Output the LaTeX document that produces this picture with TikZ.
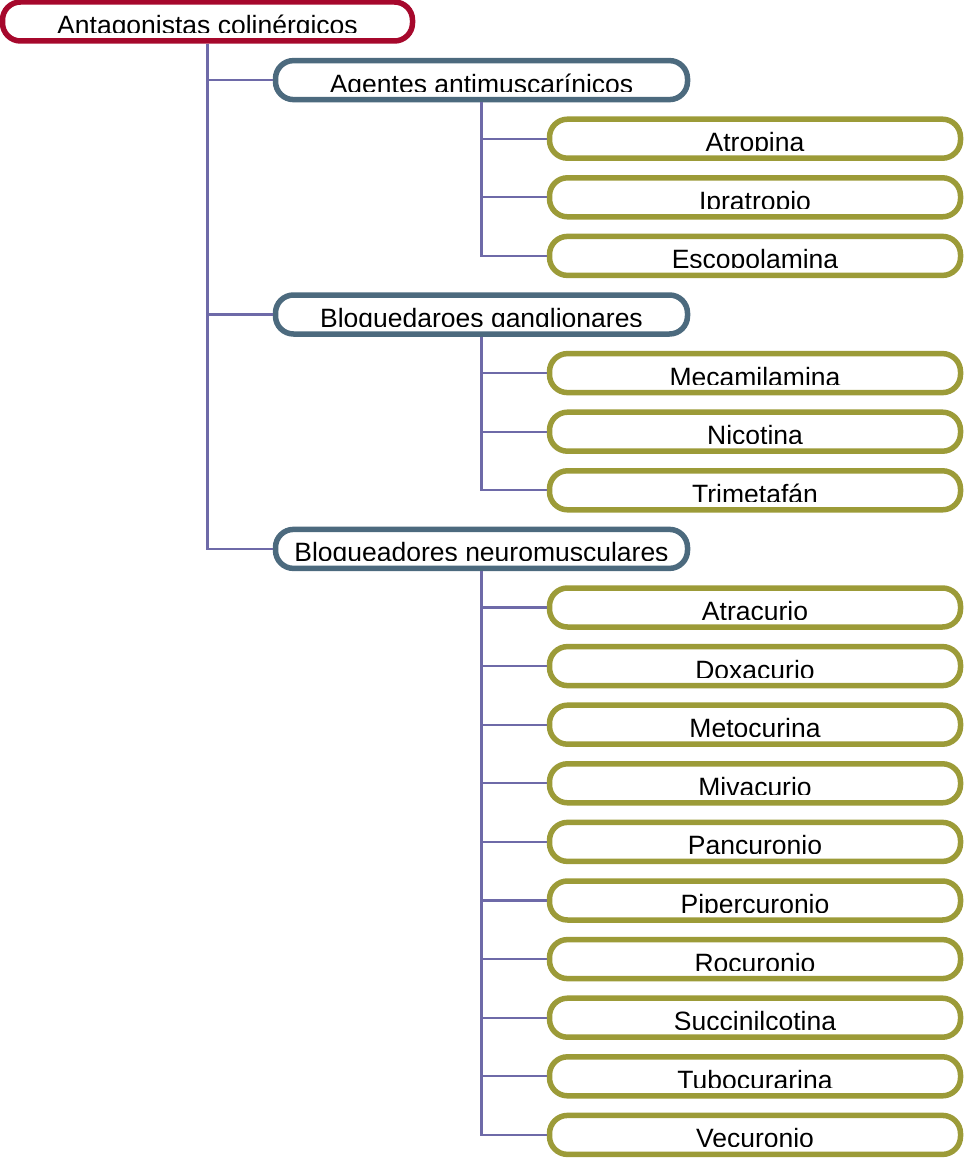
\documentclass[tikz,border=0pt]{standalone}
\usepackage{fontspec}
\setmainfont{Liberation Sans}
\definecolor{rootred}{RGB}{166,8,44}
\definecolor{slate}{RGB}{76,106,126}
\definecolor{olive}{RGB}{156,155,56}
\definecolor{conncol}{RGB}{110,106,168}
\tikzset{
  box/.style={draw, line width=5.5pt, rounded corners=18pt, inner sep=0pt, minimum height=39pt, fill=white},
  rootbox/.style={box, draw=rootred, minimum width=410pt},
  midbox/.style={box, draw=slate, minimum width=412pt},
  leafbox/.style={box, draw=olive, minimum width=411pt},
  conn/.style={draw=conncol, line width=2.2pt},
  lbl/.style={anchor=base, inner sep=0pt, font=\fontsize{26.5}{26.5}\selectfont, text=black}
}
\newcommand\boxlabel[2]{%
  \begin{scope}
    \clip ([yshift=-2.5pt]#1.north west) rectangle ([yshift=-11.5pt]#1.east);
    \node[lbl] (#1-t) at ([yshift=-13pt]#1.center) {#2};
  \end{scope}}
\begin{document}
\begin{tikzpicture}[x=1pt,y=-1pt]
\useasboundingbox (0,0) rectangle (966,1161);
% rows: y = 21.5 + 58.6 k
\node[rootbox] (root) at (207.5,21.5) {};
\node[midbox] (ag) at (481.5,80.1) {};
\node[leafbox] (atr) at (755,138.7) {};
\node[leafbox] (ipr) at (755,197.3) {};
\node[leafbox] (esc) at (755,255.9) {};
\node[midbox] (bg) at (481.5,314.5) {};
\node[leafbox] (mec) at (755,373.1) {};
\node[leafbox] (nic) at (755,431.7) {};
\node[leafbox] (tri) at (755,490.3) {};
\node[midbox] (bn) at (481.5,548.9) {};
\node[leafbox] (atc) at (755,607.5) {};
\node[leafbox] (dox) at (755,666.1) {};
\node[leafbox] (met) at (755,724.7) {};
\node[leafbox] (miv) at (755,783.3) {};
\node[leafbox] (pan) at (755,841.9) {};
\node[leafbox] (pip) at (755,900.5) {};
\node[leafbox] (roc) at (755,959.1) {};
\node[leafbox] (suc) at (755,1017.7) {};
\node[leafbox] (tub) at (755,1076.3) {};
\node[leafbox] (vec) at (755,1134.9) {};
% connectors
\path[conn] (root.south) |- (ag.west);
\path[conn] (root.south) |- (bg.west);
\path[conn] (root.south) |- (bn.west);
\path[conn] (ag.south) |- (atr.west);
\path[conn] (ag.south) |- (ipr.west);
\path[conn] (ag.south) |- (esc.west);
\path[conn] (bg.south) |- (mec.west);
\path[conn] (bg.south) |- (nic.west);
\path[conn] (bg.south) |- (tri.west);
\foreach \n in {atc,dox,met,miv,pan,pip,roc,suc,tub,vec}{
  \path[conn] (bn.south) |- (\n.west);
}
% labels
\boxlabel{root}{Antagonistas colinérgicos}
\boxlabel{ag}{Agentes antimuscarínicos}
\boxlabel{atr}{Atropina}
\boxlabel{ipr}{Ipratropio}
\boxlabel{esc}{Escopolamina}
\boxlabel{bg}{Bloquedaroes ganglionares}
\boxlabel{mec}{Mecamilamina}
\boxlabel{nic}{Nicotina}
\boxlabel{tri}{Trimetafán}
\boxlabel{bn}{Bloqueadores neuromusculares}
\boxlabel{atc}{Atracurio}
\boxlabel{dox}{Doxacurio}
\boxlabel{met}{Metocurina}
\boxlabel{miv}{Mivacurio}
\boxlabel{pan}{Pancuronio}
\boxlabel{pip}{Pipercuronio}
\boxlabel{roc}{Rocuronio}
\boxlabel{suc}{Succinilcotina}
\boxlabel{tub}{Tubocurarina}
\boxlabel{vec}{Vecuronio}
\end{tikzpicture}
\end{document}
